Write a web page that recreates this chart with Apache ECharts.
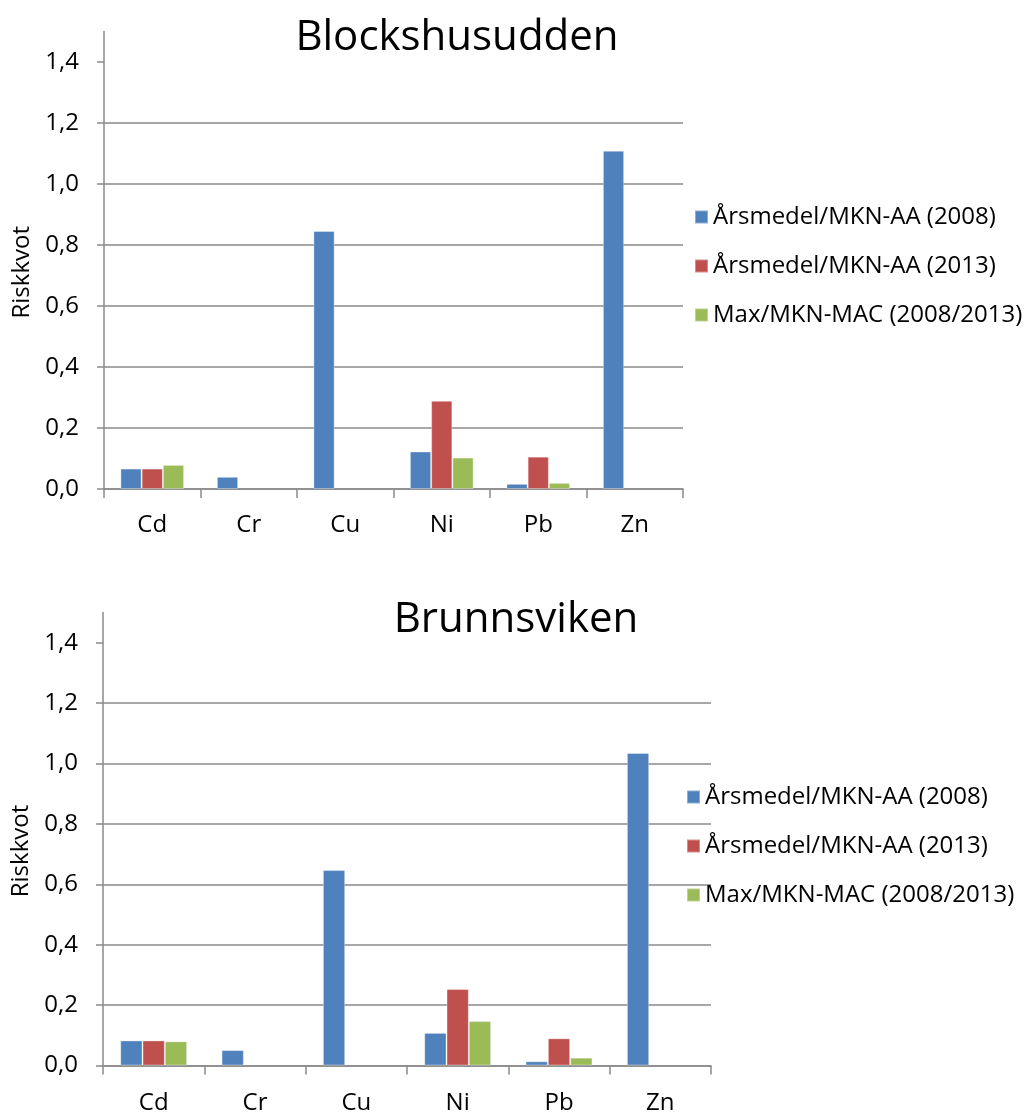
<!DOCTYPE html>
<html>
<head>
<meta charset="utf-8">
<script src="https://cdn.jsdelivr.net/npm/echarts@6/dist/echarts.min.js"></script>
<style>html,body{margin:0;padding:0;background:#fff}#c{width:1028px;height:1113px}</style>
</head>
<body>
<div id="c"></div>
<script>
const categories = ['Cd', 'Cr', 'Cu', 'Ni', 'Pb', 'Zn'];
const seriesNames = ['Årsmedel/MKN-AA (2008)', 'Årsmedel/MKN-AA (2013)', 'Max/MKN-MAC (2008/2013)'];
const titles = ['Blockshusudden', 'Brunnsviken'];
const yTicks = [0, 0.2, 0.4, 0.6, 0.8, 1.0, 1.2, 1.4];
// Blockshusudden
const block2008 = [0.067, 0.040, 0.846, 0.123, 0.017, 1.109];
const block2013 = [0.067, null, null, 0.289, 0.106, null];
const blockMax  = [0.079, null, null, 0.103, 0.020, null];
// Brunnsviken
const brunn2008 = [0.083, 0.051, 0.647, 0.108, 0.014, 1.035];
const brunn2013 = [0.083, null, null, 0.253, 0.090, null];
const brunnMax  = [0.080, null, null, 0.147, 0.026, null];

const colors = ['#4F81BD', '#C0504D', '#9BBB59'];
const FONT = 'Open Sans';
const gridColor = '#8a8a8a';

function yAxis(gridIndex) {
  return {
    type: 'value', gridIndex, min: 0, max: 1.5, interval: 0.2,
    name: 'Riskkvot', nameLocation: 'middle', nameGap: 68, nameRotate: 90,
    nameTextStyle: { fontFamily: FONT, fontSize: 24, color: '#000', padding: [0, 24, 0, 0] },
    axisLine: { show: true, lineStyle: { color: gridColor, width: 1.5 } },
    axisTick: { show: true, length: 7, lineStyle: { color: gridColor, width: 1.5 }, customValues: yTicks },
    axisLabel: { margin: 25, fontFamily: FONT, fontSize: 24, color: '#000', customValues: yTicks,
      formatter: v => v.toFixed(1).replace('.', ',') },
    splitLine: { show: true, showMaxLine: false, lineStyle: { color: gridColor, width: 1.5 } }
  };
}
function xAxis(gridIndex, margin) {
  return {
    type: 'category', gridIndex, data: categories,
    axisLine: { lineStyle: { color: gridColor, width: 1.5 } },
    axisTick: { show: true, length: 9, lineStyle: { color: gridColor, width: 1.5 } },
    axisLabel: { margin, fontFamily: FONT, fontSize: 24, color: '#000' }
  };
}
function bars(data, idx, axisIdx) {
  return {
    type: 'bar', name: seriesNames[idx], data, xAxisIndex: axisIdx, yAxisIndex: axisIdx,
    barWidth: '22%', barGap: '0%',
    itemStyle: { color: colors[idx], borderColor: 'rgba(255,255,255,0.35)', borderWidth: 1 }
  };
}
function legend(left, top) {
  return {
    orient: 'vertical', left, top, icon: 'rect', itemWidth: 13, itemHeight: 13, itemGap: 25,
    data: seriesNames,
    textStyle: { fontFamily: FONT, fontSize: 24, color: '#000', lineHeight: 24, padding: 0 }
  };
}

const chart = echarts.init(document.getElementById('c'), null, { renderer: 'canvas' });
chart.setOption({
  animation: false,
  color: colors,
  title: [
    { text: titles[0], left: 452, top: 33, textAlign: 'center', textVerticalAlign: 'middle',
      textStyle: { fontFamily: FONT, fontSize: 42, fontWeight: 'normal', color: '#000' } },
    { text: titles[1], left: 511, top: 615, textAlign: 'center', textVerticalAlign: 'middle',
      textStyle: { fontFamily: FONT, fontSize: 42, fontWeight: 'normal', color: '#000' } }
  ],
  legend: [legend(689, 200), legend(681, 780)],
  grid: [
    { left: 104, top: 31.5, width: 579, height: 457.5, outerBoundsMode: 'none', containLabel: false },
    { left: 103, top: 612.5, width: 608, height: 453, outerBoundsMode: 'none', containLabel: false }
  ],
  xAxis: [xAxis(0, 24), xAxis(1, 26)],
  yAxis: [yAxis(0), yAxis(1)],
  series: [
    bars(block2008, 0, 0), bars(block2013, 1, 0), bars(blockMax, 2, 0),
    bars(brunn2008, 0, 1), bars(brunn2013, 1, 1), bars(brunnMax, 2, 1)
  ]
});
</script>
</body>
</html>
